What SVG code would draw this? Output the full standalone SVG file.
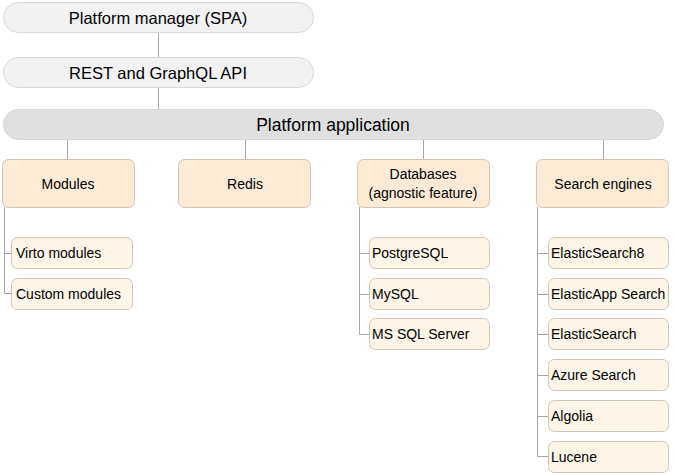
<svg xmlns="http://www.w3.org/2000/svg" width="674" height="474" viewBox="0 0 674 474">
<style>
.pill{fill:#f2f2f2;stroke:#d9d9d9;stroke-width:1}
.app{fill:#e0e0e0;stroke:#d6d6d6;stroke-width:1}
.main{fill:#fdebd5;stroke:#d2c5b6;stroke-width:1}
.sub{fill:#fef4e8;stroke:#d2c5b6;stroke-width:1}
.t{font-family:"Liberation Sans",Arial,sans-serif;fill:#000}
.big{font-size:16.5px;text-anchor:middle}
.huge{font-size:17.5px;text-anchor:middle}
.mid{font-size:14px;text-anchor:middle}
.sm{font-size:14px}
.c{stroke:#a6a6a6;stroke-width:1;fill:none}
</style>
<rect width="674" height="474" fill="#fff"/>
<g id="connectors">
<path class="c" d="M158.5 32V57M158.5 87V109M67.5 140V159M245.5 140V159M423.5 140V159M603.5 140V159"/>
<path class="c" d="M4.5 207V293.5H11M4.5 253.5H11"/>
<path class="c" d="M359.5 207V334.5H369M359.5 253.5H369M359.5 294.5H369"/>
<path class="c" d="M537.5 207V456.5H548M537.5 253.5H548M537.5 294.5H548M537.5 334.5H548M537.5 375.5H548M537.5 416.5H548"/>
</g>
<g id="spa"><rect class="pill" x="3.5" y="2.5" width="310" height="30" rx="15"/><text class="t big" x="158" y="23.5">Platform manager (SPA)</text></g>
<g id="api"><rect class="pill" x="3.5" y="57.5" width="310" height="30" rx="15"/><text class="t big" x="158" y="78.5">REST and GraphQL API</text></g>
<g id="app"><rect class="app" x="3.5" y="109.5" width="660" height="30" rx="15"/><text class="t huge" x="333" y="130.5">Platform application</text></g>
<g id="modules"><rect class="main" x="2.5" y="159.5" width="132" height="48" rx="6"/><text class="t mid" x="68" y="188.5">Modules</text></g>
<g id="redis"><rect class="main" x="178.5" y="159.5" width="132" height="48" rx="6"/><text class="t mid" x="245" y="188.5">Redis</text></g>
<g id="databases"><rect class="main" x="357.5" y="159.5" width="132" height="48" rx="6"/><text class="t mid" x="423" y="179">Databases</text><text class="t mid" x="423" y="198">(agnostic feature)</text></g>
<g id="search"><rect class="main" x="536.5" y="159.5" width="132" height="48" rx="6"/><text class="t mid" x="603" y="188.5">Search engines</text></g>
<g id="virto"><rect class="sub" x="11.5" y="237.5" width="121" height="31" rx="6"/><text class="t sm" x="16" y="258">Virto modules</text></g>
<g id="custom"><rect class="sub" x="11.5" y="278.5" width="121" height="31" rx="6"/><text class="t sm" x="16" y="299">Custom modules</text></g>
<g id="postgres"><rect class="sub" x="369.5" y="237.5" width="120" height="31" rx="6"/><text class="t sm" x="372" y="258">PostgreSQL</text></g>
<g id="mysql"><rect class="sub" x="369.5" y="278.5" width="120" height="31" rx="6"/><text class="t sm" x="372" y="299">MySQL</text></g>
<g id="mssql"><rect class="sub" x="369.5" y="318.5" width="120" height="31" rx="6"/><text class="t sm" x="372" y="339">MS SQL Server</text></g>
<g id="es8"><rect class="sub" x="548.5" y="237.5" width="120" height="31" rx="6"/><text class="t sm" x="551" y="258">ElasticSearch8</text></g>
<g id="esapp"><rect class="sub" x="548.5" y="278.5" width="120" height="31" rx="6"/><text class="t sm" x="551" y="299">ElasticApp Search</text></g>
<g id="es"><rect class="sub" x="548.5" y="318.5" width="120" height="31" rx="6"/><text class="t sm" x="551" y="339">ElasticSearch</text></g>
<g id="azure"><rect class="sub" x="548.5" y="359.5" width="120" height="31" rx="6"/><text class="t sm" x="551" y="380">Azure Search</text></g>
<g id="algolia"><rect class="sub" x="548.5" y="400.5" width="120" height="31" rx="6"/><text class="t sm" x="551" y="421">Algolia</text></g>
<g id="lucene"><rect class="sub" x="548.5" y="441.5" width="120" height="31" rx="6"/><text class="t sm" x="551" y="462">Lucene</text></g>
</svg>
